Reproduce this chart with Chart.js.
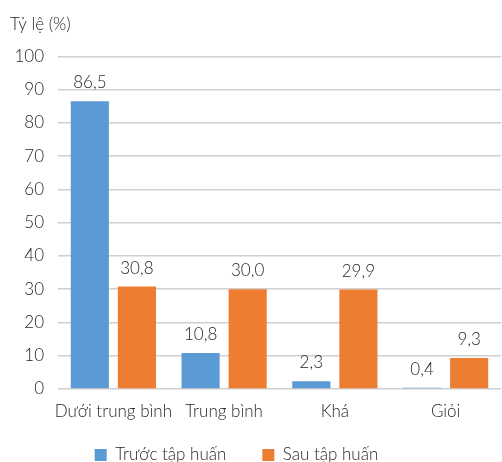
<!DOCTYPE html>
<html>
<head>
  <meta charset="utf-8">
  <title>Tỷ lệ (%)</title>
  <script src="https://cdn.jsdelivr.net/npm/chart.js@4.4.0/dist/chart.umd.min.js"></script>
  <style>
    * { margin: 0; padding: 0; box-sizing: border-box; }
    body { background: #ffffff; width: 502px; height: 462px; overflow: hidden; }
    #wrap { width: 502px; height: 462px; }
  </style>
</head>
<body>
  <div id="wrap"><canvas id="chart" width="502" height="462"></canvas></div>

  <script>
    // data
    const categories = ['Dưới trung bình', 'Trung bình', 'Khá', 'Giỏi'];
    const truocTapHuan = [86.5, 10.8, 2.3, 0.4];
    const sauTapHuan = [30.8, 30.0, 29.9, 9.3];
    const seriesNames = ['Trước tập huấn', 'Sau tập huấn'];
    const yTicks = [0, 10, 20, 30, 40, 50, 60, 70, 80, 90, 100];

    const textColor = '#262626';
    const fontFamily = "Lato, 'Noto Sans', sans-serif";
    const font = { family: fontFamily, size: 17, weight: 300 };
    const legendPad = 36;

    // value labels above the bars, comma as decimal mark
    const barLabels = {
      id: 'barLabels',
      afterDatasetsDraw(chart) {
        const ctx = chart.ctx;
        ctx.save();
        ctx.font = '300 17px ' + fontFamily;
        ctx.fillStyle = textColor;
        ctx.textAlign = 'center';
        ctx.textBaseline = 'alphabetic';
        chart.data.datasets.forEach((ds, i) => {
          chart.getDatasetMeta(i).data.forEach((bar, j) => {
            const txt = ds.data[j].toFixed(1).replace('.', ',');
            ctx.fillText(txt, bar.x, bar.y - 13);
          });
        });
        ctx.restore();
      }
    };

    // the legend sits lower and a bit left of centre in the original
    const legendPlace = {
      id: 'legendPlace',
      afterLayout(chart) {
        const lg = chart.legend;
        lg.top = 455 - 8.5 - legendPad;
        lg.bottom = 462;
        lg.height = lg.bottom - lg.top;
        lg.left -= 19; lg.right -= 19;
      }
    };

    new Chart(document.getElementById('chart'), {
      type: 'bar',
      data: {
        labels: categories,
        datasets: [
          { label: seriesNames[0], data: truocTapHuan, backgroundColor: '#5b9bd5' },
          { label: seriesNames[1], data: sauTapHuan, backgroundColor: '#ed7d31' }
        ]
      },
      options: {
        responsive: false,
        animation: false,
        events: [],
        layout: { padding: { left: 10, right: 1, top: 0, bottom: 0 } },
        datasets: {
          bar: { categoryPercentage: 0.85, barPercentage: 0.81 }
        },
        plugins: {
          title: {
            display: true,
            text: 'Tỷ lệ (%)',
            align: 'start',
            color: textColor,
            font: font,
            padding: { top: 14, bottom: 22 }
          },
          legend: {
            position: 'bottom',
            maxHeight: 28.6,
            labels: {
              color: textColor,
              font: font,
              boxWidth: 12,
              boxHeight: 12,
              padding: legendPad
            }
          },
          tooltip: { enabled: false }
        },
        scales: {
          x: {
            grid: { display: false, drawTicks: false },
            border: { display: false },
            ticks: {
              color: textColor,
              font: font,
              padding: 12,
              autoSkip: false,
              maxRotation: 0
            }
          },
          y: {
            min: 0,
            max: 100,
            afterFit: s => { s.width = 48; },
            afterBuildTicks: s => { s.ticks = yTicks.map(v => ({ value: v })); },
            grid: { color: '#d0d0d0', lineWidth: 1.5, drawTicks: false },
            border: { display: false },
            ticks: {
              color: textColor,
              font: font,
              padding: 14
            }
          }
        }
      },
      plugins: [barLabels, legendPlace]
    });
  </script>
</body>
</html>
